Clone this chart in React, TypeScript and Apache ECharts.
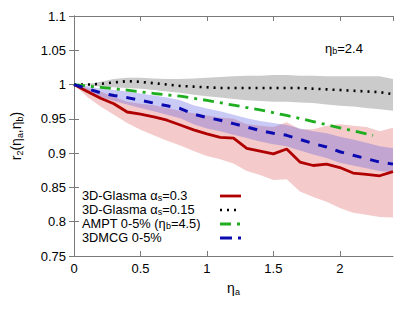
import React, { useEffect, useRef } from "react";
import * as echarts from "echarts";

// eta_a grid
const etaA = [0, 0.1, 0.2, 0.3, 0.4, 0.5, 0.6, 0.7, 0.8, 0.9, 1.0, 1.1, 1.2, 1.3, 1.4, 1.5, 1.6, 1.7, 1.8, 1.9, 2.0, 2.1, 2.2, 2.3, 2.4];

// 3D-Glasma alpha_s = 0.3
const glasma03 = [1.0, 0.99, 0.98, 0.972, 0.96, 0.957, 0.953, 0.948, 0.941, 0.934, 0.928, 0.923, 0.922, 0.907, 0.903, 0.899, 0.906, 0.887, 0.882, 0.884, 0.879, 0.871, 0.869, 0.867, 0.873];
const glasma03Lo = [1.0, 0.982, 0.968, 0.956, 0.944, 0.934, 0.926, 0.918, 0.911, 0.903, 0.896, 0.891, 0.885, 0.874, 0.868, 0.861, 0.862, 0.844, 0.836, 0.829, 0.82, 0.813, 0.81, 0.807, 0.806];
const glasma03Hi = [1.0, 0.995, 0.99, 0.982, 0.975, 0.972, 0.97, 0.966, 0.962, 0.958, 0.955, 0.952, 0.95, 0.942, 0.94, 0.938, 0.945, 0.935, 0.935, 0.94, 0.942, 0.94, 0.938, 0.932, 0.937];

// 3D-Glasma alpha_s = 0.15
const glasma015 = [1.0, 1.0, 1.001, 1.003, 1.005, 1.004, 1.002, 1.0, 0.998, 0.997, 0.996, 0.995, 0.995, 0.995, 0.995, 0.995, 0.995, 0.995, 0.994, 0.993, 0.992, 0.991, 0.99, 0.989, 0.986];
const glasma015Lo = [1.0, 0.999, 0.997, 0.996, 0.995, 0.994, 0.992, 0.99, 0.988, 0.985, 0.983, 0.981, 0.979, 0.977, 0.976, 0.975, 0.975, 0.974, 0.973, 0.971, 0.969, 0.968, 0.966, 0.964, 0.962];
const glasma015Hi = [1.0, 1.001, 1.004, 1.008, 1.01, 1.01, 1.009, 1.008, 1.008, 1.009, 1.01, 1.011, 1.012, 1.013, 1.013, 1.014, 1.014, 1.013, 1.013, 1.012, 1.012, 1.012, 1.012, 1.012, 1.008];

// AMPT 0-5% (eta_b = 4.5)
const amptEta = [0, 0.2, 0.4, 0.6, 0.8, 1.0, 1.2, 1.4, 1.6, 1.8, 2.0, 2.2, 2.25];
const ampt = [1.0, 0.996, 0.992, 0.987, 0.983, 0.977, 0.97, 0.963, 0.955, 0.946, 0.937, 0.928, 0.926];

// 3DMCG 0-5%
const mcg = [1.0, 0.994, 0.988, 0.984, 0.981, 0.977, 0.973, 0.969, 0.965, 0.957, 0.952, 0.948, 0.943, 0.938, 0.933, 0.929, 0.926, 0.92, 0.914, 0.909, 0.902, 0.897, 0.892, 0.887, 0.884];
const mcgLo = [1.0, 0.99, 0.982, 0.976, 0.971, 0.966, 0.961, 0.956, 0.951, 0.942, 0.936, 0.932, 0.927, 0.922, 0.917, 0.913, 0.91, 0.904, 0.898, 0.893, 0.886, 0.882, 0.878, 0.874, 0.872];
const mcgHi = [1.0, 0.998, 0.994, 0.992, 0.99, 0.987, 0.984, 0.981, 0.977, 0.97, 0.965, 0.961, 0.956, 0.951, 0.947, 0.944, 0.941, 0.936, 0.932, 0.929, 0.924, 0.92, 0.915, 0.91, 0.907];

const legendNames = ["3D-Glasma α{s|s}=0.3", "3D-Glasma α{s|s}=0.15", "AMPT 0-5% (η{s|b}=4.5)", "3DMCG 0-5%"];
const xTicks = ["0", "0.5", "1", "1.5", "2"];

const FONT = "'Liberation Sans', Arial, Helvetica, sans-serif";
const RED = "#b00000";
const BLACK = "#000000";
const GREEN = "#1fae1f";
const BLUE = "#0a0ab0";

const pairs = (xs: number[], ys: number[]) => xs.map((x, i) => [x, ys[i]]);

function band(name: string, lo: number[], hi: number[], color: string, z: number) {
  const rows = etaA.map((x, i) => [x, lo[i], hi[i]]);
  return {
    type: "custom",
    name,
    data: rows,
    silent: true,
    z,
    encode: { x: 0, y: [1, 2] },
    renderItem: (params: any, api: any) => {
      if (params.dataIndex !== 0) return null;
      const upper = rows.map((r) => api.coord([r[0], r[2]]));
      const lower = rows.map((r) => api.coord([r[0], r[1]])).reverse();
      return {
        type: "polygon",
        shape: { points: upper.concat(lower) },
        style: { fill: color, stroke: "none" },
      };
    },
  };
}

const subRich = {
  s: { fontSize: 9, lineHeight: 9, verticalAlign: "bottom", fontFamily: FONT, color: "#000" },
};

export default function App() {
  const ref = useRef<HTMLDivElement>(null);
  useEffect(() => {
    if (!ref.current) return;
    const chart = echarts.init(ref.current, undefined, { renderer: "svg" });
    const axisLineStyle = { color: "#7a7a7a", width: 1 };
    const legendX0 = 220;
    const legendX1 = 241;
    const legendYs = [196, 210, 224, 238];
    const legendStyles = [
      { stroke: RED, lineWidth: 2.8, lineDash: null as any },
      { stroke: BLACK, lineWidth: 2.6, lineDash: [2, 5] },
      { stroke: GREEN, lineWidth: 2.8, lineDash: [11, 6, 3, 6] },
      { stroke: BLUE, lineWidth: 3, lineDash: [12, 6] },
    ];
    const graphic: any[] = [];
    legendNames.forEach((n, i) => {
      graphic.push({
        type: "text",
        left: 82,
        top: legendYs[i] - 7,
        style: {
          text: n,
          font: `12.8px ${FONT}`,
          fill: "#000",
          lineHeight: 13.5,
          rich: { s: { fontSize: 9, lineHeight: 8, verticalAlign: "bottom", fontFamily: FONT, fill: "#000" } },
        },
      });
      graphic.push({
        type: "line",
        shape: { x1: legendX0, y1: legendYs[i], x2: legendX1, y2: legendYs[i] },
        style: { ...legendStyles[i], lineCap: "butt" },
      });
    });
    graphic.push({
      type: "text",
      left: 325,
      top: 41,
      style: {
        text: "η{s|b}=2.4",
        font: `13px ${FONT}`,
        fill: "#000",
        lineHeight: 14,
        rich: { s: { fontSize: 9, lineHeight: 8, verticalAlign: "bottom", fontFamily: FONT, fill: "#000" } },
      },
    });

    const xBase = {
      type: "value",
      min: 0,
      max: 2.4,
      interval: 0.5,
      splitLine: { show: false },
      axisLine: { show: true, lineStyle: axisLineStyle },
      axisTick: { show: true, inside: true, length: 5, lineStyle: axisLineStyle },
    };
    const yBase = {
      type: "value",
      min: 0.75,
      max: 1.1,
      interval: 0.05,
      splitLine: { show: false },
      axisLine: { show: true, lineStyle: axisLineStyle },
      axisTick: { show: true, inside: true, length: 5, lineStyle: axisLineStyle },
    };

    chart.setOption({
      animation: false,
      backgroundColor: "#ffffff",
      grid: { left: 70, right: 22, top: 16, bottom: 56, containLabel: false },
      xAxis: [
        {
          ...xBase,
          position: "bottom",
          name: "η{s|a}",
          nameLocation: "middle",
          nameGap: 24,
          nameTextStyle: { fontSize: 14, fontFamily: FONT, color: "#000", lineHeight: 16, rich: subRich },
          axisLabel: {
            show: true,
            margin: 6,
            fontSize: 13,
            fontFamily: FONT,
            color: "#000",
            showMaxLabel: false,
            formatter: (v: number) => {
              const idx = Math.round(v / 0.5);
              return Math.abs(v - idx * 0.5) < 1e-6 && idx < xTicks.length ? xTicks[idx] : "";
            },
          },
        },
        {
          ...xBase,
          position: "top",
          axisLabel: { show: false },
        },
      ],
      yAxis: [
        {
          ...yBase,
          position: "left",
          name: "r{s|2}(η{s|a},η{s|b})",
          nameLocation: "middle",
          nameGap: 50,
          nameRotate: 90,
          nameTextStyle: { fontSize: 14, fontFamily: FONT, color: "#000", lineHeight: 16, rich: subRich },
          axisLabel: { show: true, margin: 8, fontSize: 13, fontFamily: FONT, color: "#000" },
        },
        {
          ...yBase,
          position: "right",
          axisLabel: { show: false },
        },
      ],
      graphic,
      series: [
        band("red-band", glasma03Lo, glasma03Hi, "rgba(218,80,80,0.3)", 1),
        band("grey-band", glasma015Lo, glasma015Hi, "rgba(140,140,140,0.45)", 1),
        band("blue-band", mcgLo, mcgHi, "rgba(80,80,225,0.3)", 2),
        {
          type: "line",
          name: "3D-Glasma αs=0.3",
          data: pairs(etaA, glasma03),
          symbol: "none",
          lineStyle: { color: RED, width: 2.8 },
          z: 5,
        },
        {
          type: "line",
          name: "3D-Glasma αs=0.15",
          data: pairs(etaA, glasma015),
          symbol: "none",
          lineStyle: { color: BLACK, width: 2.6, type: [2, 5], cap: "butt" },
          z: 5,
        },
        {
          type: "line",
          name: "AMPT 0-5% (ηb=4.5)",
          data: pairs(amptEta, ampt),
          symbol: "none",
          lineStyle: { color: GREEN, width: 2.8, type: [11, 6, 3, 6], cap: "butt" },
          z: 5,
        },
        {
          type: "line",
          name: "3DMCG 0-5%",
          data: pairs(etaA, mcg),
          symbol: "none",
          lineStyle: { color: BLUE, width: 3, type: [9, 9], cap: "butt" },
          z: 5,
        },
      ],
    });
    return () => chart.dispose();
  }, []);
  return <div ref={ref} style={{ position: "fixed", left: 0, top: 0, width: 415, height: 312 }} />;
}
